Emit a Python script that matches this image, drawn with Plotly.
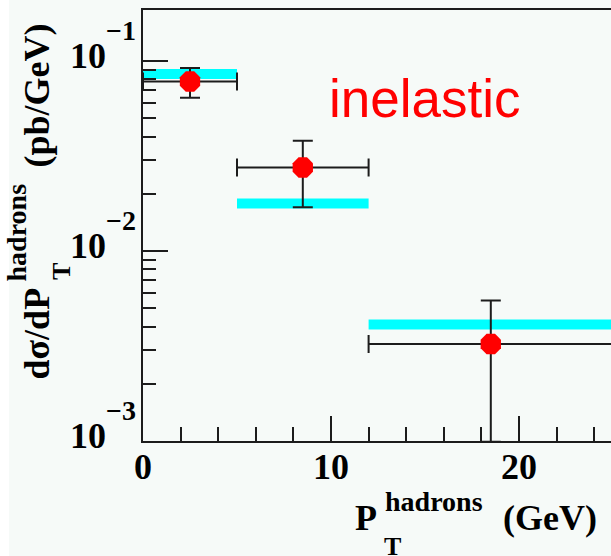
import plotly.graph_objects as go

# Measured hadron-pT spectrum: bin centres, half widths, cross sections and errors
pt_center = [2.5, 8.5, 18.5]
pt_halfwidth = [2.5, 3.5, 6.5]
dsigma = [0.078, 0.0275, 0.00324]
dsigma_err = [0.014, 0.0105, 0.00225]

# Prediction, one flat level per bin
pred_lo = [0, 5, 12]
pred_hi = [5, 12, 25]
pred_val = [0.0855, 0.0178, 0.0041]

# Axis ticks
x_major = [0, 10, 20]
y_major = [1e-3, 1e-2, 1e-1]
y_exponents = ["\u22123", "\u22122", "\u22121"]
y_minor = [m * d for d in (1e-3, 1e-2) for m in range(2, 10)]

W, H = 611, 556
L, T, PW, PH = 143, 10, 468, 431
X_PER_UNIT = 18.8
BG = "#F6FAF8"
INK = "#1c1c1c"
SERIF = "Liberation Serif"


def px(xp):
    return (xp - L) / PW


def py(yp):
    return (T + PH - yp) / PH


band_x, band_y = [], []
for lo, hi, v in zip(pred_lo, pred_hi, pred_val):
    band_x += [lo, hi, None]
    band_y += [v, v, None]

fig = go.Figure()
fig.add_trace(go.Scatter(
    x=band_x, y=band_y, mode="lines",
    line=dict(color="#00FFFF", width=10),
    hoverinfo="skip", showlegend=False,
))
fig.add_trace(go.Scatter(
    x=pt_center, y=dsigma, mode="markers",
    marker=dict(symbol="octagon", size=22, color="#FF0000", line=dict(width=0)),
    error_x=dict(type="data", array=pt_halfwidth, color=INK, thickness=2, width=9),
    error_y=dict(type="data", array=dsigma_err, color=INK, thickness=2, width=10),
    showlegend=False,
))

# "10" with a raised exponent; the wide wrapper span only sets how high the
# exponent sits, the inner span sets its glyph size
y_ticktext = [
    "<span style='font-size:36px'>10</span>"
    "<span style='font-size:67px'><sup><span style='font-size:28px'>%s</span></sup></span>" % e
    for e in y_exponents
]

fig.update_layout(
    width=W, height=H, autosize=False,
    margin=dict(l=L, r=W - L - PW, t=T, b=H - T - PH, pad=0),
    paper_bgcolor=BG, plot_bgcolor=BG,
    showlegend=False,
    xaxis=dict(
        range=[0, PW / X_PER_UNIT],
        tickmode="array", tickvals=x_major, ticktext=[str(v) for v in x_major],
        ticks="inside", ticklen=25, tickwidth=2, tickcolor=INK,
        showline=True, linecolor=INK, linewidth=2, mirror=True,
        showgrid=False, zeroline=False,
        tickfont=dict(family=SERIF, size=36, color="black", weight="bold"),
        ticklabelstandoff=-7,
        minor=dict(tickmode="linear", tick0=0, dtick=2, ticks="inside",
                   ticklen=14, tickwidth=2, tickcolor=INK, showgrid=False),
    ),
    yaxis=dict(
        type="log", range=[-3, -0.7316],
        tickmode="array", tickvals=y_major, ticktext=y_ticktext,
        ticks="inside", ticklen=25, tickwidth=2, tickcolor=INK,
        showline=True, linecolor=INK, linewidth=2, mirror=False,
        showgrid=False, zeroline=False,
        tickfont=dict(family=SERIF, size=20, color="black", weight="bold"),
        ticklabelstandoff=1, ticklabeloverflow="allow",
        minor=dict(tickmode="array", tickvals=y_minor, ticks="inside",
                   ticklen=13, tickwidth=2, tickcolor=INK, showgrid=False),
    ),
)

# thin white strip along the left edge of the page
fig.add_shape(type="rect", xref="paper", yref="paper", layer="below",
              x0=px(-5), x1=px(9), y0=py(H + 5), y1=py(-5),
              fillcolor="white", line=dict(width=0))

fig.add_annotation(text="inelastic", xref="paper", yref="paper",
                   x=px(424), y=py(98.5), xanchor="center", yanchor="middle",
                   showarrow=False,
                   font=dict(family="Liberation Sans", size=53, color="#FF0000"))


def label(text, cx, cy, size, angle=0):
    fig.add_annotation(text=text, xref="paper", yref="paper",
                       x=px(cx), y=py(cy), xanchor="center", yanchor="middle",
                       textangle=angle, showarrow=False,
                       font=dict(family=SERIF, size=size, color="black", weight="bold"))


# x-axis title: P_T^hadrons (GeV)
label("P", 366, 518, 36)
label("hadrons", 433.5, 501.5, 28)
label("T", 392.5, 546, 26)
label("(GeV)", 550, 518, 36)

# y-axis title: dσ/dP_T^hadrons (pb/GeV)
label("d\u03c3/dP", 36, 333.5, 36, -90)
label("hadrons", 15.5, 233, 28, -90)
label("T", 61, 272, 26, -90)
label("(pb/GeV)", 36, 95.5, 36, -90)

fig.write_html("out.html")
